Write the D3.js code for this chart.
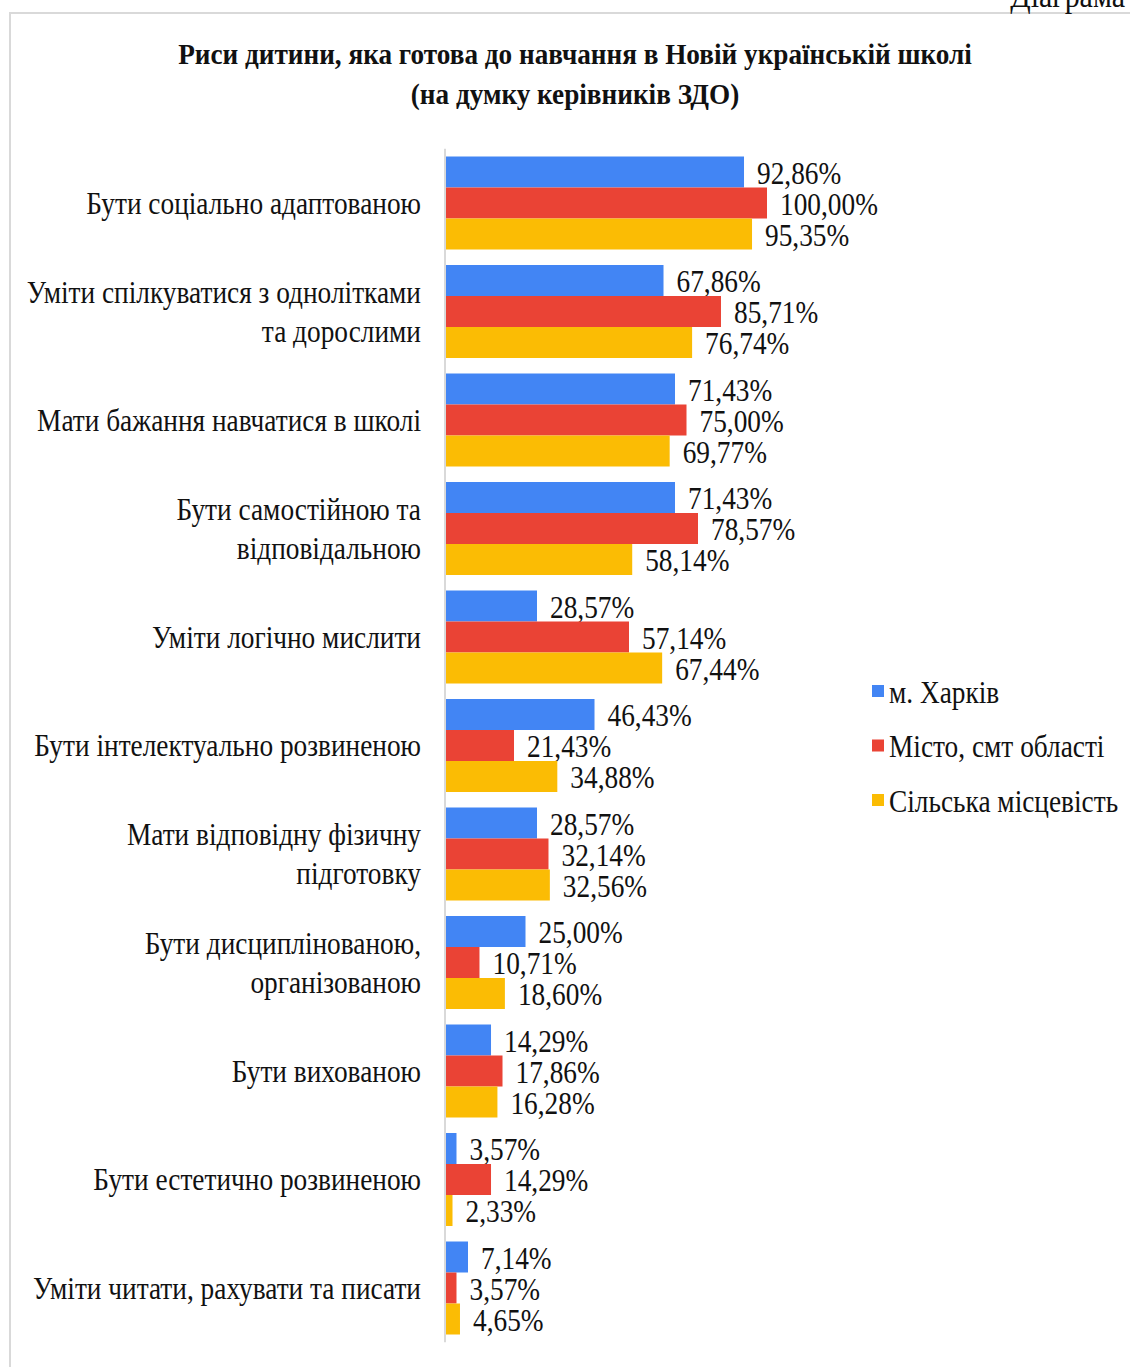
<!DOCTYPE html>
<html>
<head>
<meta charset="utf-8">
<script src="https://cdn.jsdelivr.net/npm/d3@7"></script>
<style>
  body { margin: 0; background: #fff; }
  text { font-family: "Liberation Serif"; fill: #111; }
</style>
</head>
<body>
<div id="chart-area"></div>
<script>
// Data
const categories = [
    ["Бути соціально адаптованою"],
    ["Уміти спілкуватися з однолітками", "та дорослими"],
    ["Мати бажання навчатися в школі"],
    ["Бути самостійною та", "відповідальною"],
    ["Уміти логічно мислити"],
    ["Бути інтелектуально розвиненою"],
    ["Мати відповідну фізичну", "підготовку"],
    ["Бути дисциплінованою,", "організованою"],
    ["Бути вихованою"],
    ["Бути естетично розвиненою"],
    ["Уміти читати, рахувати та писати"]
];
const seriesNames = ["м. Харків", "Місто, смт області", "Сільська місцевість"];
const kharkiv = [92.86, 67.86, 71.43, 71.43, 28.57, 46.43, 28.57, 25.00, 14.29, 3.57, 7.14];
const city = [100.00, 85.71, 75.00, 78.57, 57.14, 21.43, 32.14, 10.71, 17.86, 14.29, 3.57];
const rural = [95.35, 76.74, 69.77, 58.14, 67.44, 34.88, 32.56, 18.60, 16.28, 2.33, 4.65];
const colors = ["#4285F4", "#EA4335", "#FBBC04"];
const titleLines = ["Риси дитини, яка готова до навчання в Новій українській школі",
    "(на думку керівників ЗДО)"];

const series = [kharkiv, city, rural];

const width = 1130, height = 1367;
const fontSize = 31;

const svg = d3.select("#chart-area").append("svg")
    .attr("width", width)
    .attr("height", height);

// Measure a probe to get the horizontal squeeze the original fonts have
function measure(str, size, weight) {
    const t = svg.append("text")
        .style("font-size", size + "px")
        .style("font-weight", weight || "normal")
        .text(str);
    const w = t.node().getComputedTextLength();
    t.remove();
    return w;
}
const sx = 388 / measure(categories[10][0], fontSize);
const titleSize = 29;
const sxTitle = 794 / measure(titleLines[0], titleSize, "bold");

// squeezed text helper
function label(parent, tx, ty, str, anchor, size, scale, weight) {
    const g = parent.append("g")
        .attr("transform", "translate(" + tx + "," + ty + ") scale(" + scale + ",1)");
    return g.append("text")
        .attr("text-anchor", anchor)
        .attr("dy", "0.35em")
        .style("font-size", size + "px")
        .style("font-weight", weight || "normal")
        .text(str);
}

// Frame
svg.append("rect")
    .attr("x", 10).attr("y", 13)
    .attr("width", 1140).attr("height", 1400)
    .attr("fill", "none")
    .attr("stroke", "#d9d9d9")
    .attr("stroke-width", 2);

// Caption at top right (cut off by the page edge in the source)
label(svg, 1125, -5, "Діаграма", "end", 34, sx);

// Title
titleLines.forEach((ln, i) => {
    label(svg, 575, 54 + i * 40, ln, "middle", titleSize, sxTitle, "bold");
});

// Scales
const x = d3.scaleLinear().domain([0, 100]).range([445, 767]);
const y = d3.scaleBand()
    .domain(d3.range(categories.length))
    .range([148.75, 1342.25])
    .paddingInner(15.5 / 108.5)
    .paddingOuter(7.75 / 108.5);
const ySub = d3.scaleBand().domain([0, 1, 2]).range([0, y.bandwidth()]);

// Bars
series.forEach((vals, s) => {
    svg.append("g").selectAll("rect")
        .data(vals)
        .join("rect")
        .attr("x", x(0))
        .attr("y", (d, i) => y(i) + ySub(s))
        .attr("width", d => x(d) - x(0))
        .attr("height", ySub.bandwidth())
        .attr("fill", colors[s]);

    const lg = svg.append("g");
    vals.forEach((d, i) => {
        label(lg, x(d) + 13, y(i) + ySub(s) + ySub.bandwidth() / 2 + 1,
            d3.format(".2f")(d).replace(".", ",") + "%", "start", fontSize, sx);
    });
});

// Axis line
svg.append("line")
    .attr("x1", x(0)).attr("x2", x(0))
    .attr("y1", 148.75).attr("y2", 1342.25)
    .attr("stroke", "#d9d9d9")
    .attr("stroke-width", 2);

// Category labels
const cat = svg.append("g");
categories.forEach((lines, i) => {
    const cy = y(i) + y.bandwidth() / 2;
    lines.forEach((ln, j) => {
        label(cat, 421, cy + (j - (lines.length - 1) / 2) * 39, ln, "end", fontSize, sx);
    });
});

// Legend
const legend = svg.append("g");
seriesNames.forEach((name, s) => {
    const ly = 692 + s * 54.5;
    legend.append("rect")
        .attr("x", 872).attr("y", ly - 7)
        .attr("width", 12).attr("height", 12)
        .attr("fill", colors[s]);
    label(legend, 889, ly, name, "start", fontSize, sx);
});
</script>
</body>
</html>
